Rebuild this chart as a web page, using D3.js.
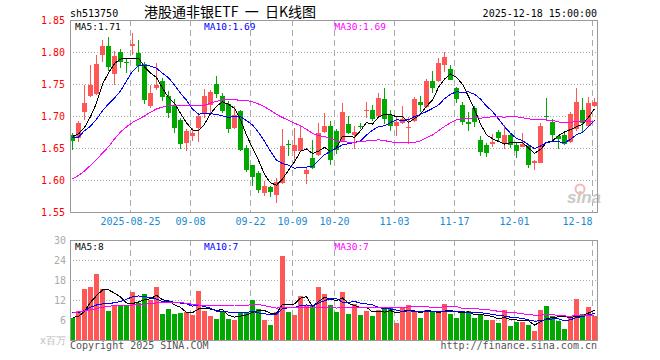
<!DOCTYPE html>
<html>
<head>
<meta charset="utf-8">
<script src="https://cdn.jsdelivr.net/npm/d3@7"></script>
<style>
  body { margin: 0; background: #fff; }
  svg { display: block; }
</style>
</head>
<body>
<script>
// K线数据 (2025-08-11 .. 2025-12-18, 88 个交易日)
const open = [1.670,1.666,1.706,1.732,1.734,1.795,1.809,1.765,1.800,1.785,
  1.810,1.799,1.782,1.715,1.744,1.755,1.731,1.715,1.693,1.658,
  1.669,1.681,1.703,1.717,1.750,1.732,1.719,1.681,1.708,1.650,
  1.623,1.611,1.579,1.589,1.577,1.595,1.656,1.646,1.646,1.610,
  1.634,1.639,1.675,1.684,1.677,1.660,1.688,1.670,1.685,1.709,
  1.710,1.700,1.727,1.702,1.684,1.689,1.682,1.692,1.722,1.714,
  1.754,1.754,1.779,1.773,1.744,1.717,1.691,1.712,1.663,1.655,
  1.657,1.675,1.656,1.670,1.655,1.652,1.653,1.627,1.627,1.700,
  1.691,1.668,1.671,1.660,1.680,1.710,1.685,1.715];
const close = [1.661,1.689,1.720,1.749,1.782,1.809,1.776,1.793,1.785,1.784,
  1.812,1.778,1.725,1.736,1.749,1.729,1.705,1.681,1.656,1.676,
  1.673,1.700,1.731,1.738,1.734,1.708,1.680,1.701,1.647,1.616,
  1.605,1.585,1.590,1.582,1.597,1.653,1.655,1.654,1.665,1.615,
  1.618,1.673,1.684,1.632,1.647,1.706,1.673,1.675,1.684,1.710,
  1.695,1.728,1.696,1.684,1.691,1.695,1.683,1.727,1.717,1.754,
  1.743,1.783,1.792,1.756,1.727,1.690,1.688,1.690,1.643,1.642,
  1.660,1.666,1.670,1.654,1.646,1.657,1.623,1.629,1.684,1.699,
  1.671,1.664,1.657,1.703,1.722,1.689,1.720,1.722];
const high = [1.673,1.692,1.749,1.780,1.796,1.819,1.823,1.801,1.805,1.790,
  1.830,1.819,1.785,1.749,1.783,1.759,1.739,1.726,1.697,1.679,
  1.682,1.705,1.742,1.741,1.763,1.736,1.723,1.715,1.710,1.655,
  1.624,1.614,1.598,1.590,1.603,1.679,1.663,1.681,1.686,1.619,
  1.663,1.689,1.704,1.692,1.680,1.720,1.700,1.685,1.689,1.722,
  1.717,1.736,1.744,1.710,1.698,1.715,1.698,1.730,1.731,1.758,
  1.771,1.791,1.800,1.779,1.746,1.722,1.706,1.716,1.668,1.658,
  1.672,1.678,1.686,1.673,1.658,1.674,1.655,1.631,1.689,1.728,
  1.695,1.669,1.673,1.706,1.743,1.728,1.730,1.728];
const low = [1.647,1.659,1.694,1.730,1.733,1.785,1.770,1.749,1.775,1.767,
  1.795,1.769,1.718,1.713,1.741,1.723,1.697,1.673,1.649,1.646,
  1.661,1.660,1.697,1.705,1.728,1.705,1.673,1.679,1.645,1.613,
  1.590,1.580,1.575,1.574,1.564,1.594,1.638,1.629,1.644,1.594,
  1.617,1.638,1.674,1.624,1.641,1.659,1.672,1.648,1.679,1.697,
  1.692,1.697,1.688,1.676,1.668,1.688,1.656,1.691,1.707,1.713,
  1.736,1.753,1.769,1.756,1.720,1.686,1.676,1.683,1.638,1.636,
  1.651,1.660,1.649,1.650,1.635,1.652,1.618,1.616,1.626,1.695,
  1.663,1.648,1.655,1.658,1.677,1.674,1.684,1.714];
// 成交量 (百万)
const volume = [6.7,8.7,15.3,16.0,19.8,15.3,8.7,10.5,10.5,10.5,
  14.5,11.0,13.8,12.0,15.9,7.8,9.3,7.8,8.2,8.3,
  7.5,14.7,8.8,7.2,6.2,8.7,6.3,6.0,8.5,8.3,
  12.0,9.3,6.0,4.5,8.3,25.2,8.5,7.5,13.2,10.5,
  10.5,16.0,13.8,10.5,8.3,14.5,7.8,10.8,7.5,8.7,
  7.2,9.0,9.5,9.7,5.2,9.7,10.5,8.5,6.7,9.0,
  8.5,8.3,10.8,7.8,6.7,8.0,8.8,6.7,7.7,6.0,
  6.0,5.2,9.0,4.3,5.5,5.5,4.5,2.7,9.0,10.2,
  7.2,5.7,3.3,7.2,12.2,7.8,10.0,7.2];

// 均线开头几天 (之前的数据不在图里, 直接从图上读)
const ma5Lead = [1.668,1.672,1.682,1.699];
const ma10Lead = [1.666,1.667,1.677,1.684,1.695,1.708,1.719,1.728,1.739];
const ma30Lead = [1.602,1.607,1.614,1.623,1.632,1.642,1.652,1.664,1.675,1.683,
  1.690,1.695,1.700,1.706,1.711,1.714,1.716,1.716,1.716,1.716,
  1.716,1.716,1.717,1.720,1.723,1.725,1.726,1.726,1.724];
const vma5Lead = [6.8,7.0,8.7,11.3];
const vma10Lead = [8.1,8.3,8.8,9.8,10.5,10.8,10.9,11.2,11.5];
const vma30Lead = [8.3,8.4,8.7,9.0,9.4,9.8,10.1,10.3,10.4,10.5,
  10.5,10.6,10.7,10.9,11.1,11.3,11.3,11.3,11.2,11.0,
  10.7,10.5,10.5,10.4,10.4,10.4,10.4,10.5,10.5];

const tickIdx = [10,20,30,37,44,54,64,74,87];
const tickLabels = ['2025-08-25','09-08','09-22','10-09','10-20','11-03','11-17','12-01','12-18'];
const priceTicks = [1.55,1.60,1.65,1.70,1.75,1.80,1.85];
const volTicks = [6,12,18,24,30];

const width = 660, height = 360;
const left = 70, right = 597;
const mTop = 20, mBot = 212, vTop = 240, vBot = 340;
const red = '#ff5656', green = '#00a800';
const mono = '"DejaVu Sans Mono", monospace';

function movingAvg(arr, n, lead) {
  return arr.map((d, i) => i < n - 1 ? lead[i] : d3.mean(arr.slice(i - n + 1, i + 1)));
}
const ma5 = movingAvg(close, 5, ma5Lead);
const ma10 = movingAvg(close, 10, ma10Lead);
const ma30 = movingAvg(close, 30, ma30Lead);
const vma5 = movingAvg(volume, 5, vma5Lead);
const vma10 = movingAvg(volume, 10, vma10Lead);
const vma30 = movingAvg(volume, 30, vma30Lead);

const svg = d3.select('body').append('svg')
  .attr('width', width).attr('height', height)
  .style('font-family', mono);

const x = d3.scaleLinear().domain([0, close.length - 1]).range([72.5, 594.5]);
const y = d3.scaleLinear().domain([1.55, 1.85]).range([mBot, mTop]);
const yv = d3.scaleLinear().domain([0, 30]).range([vBot, vTop]);

// 标题
svg.append('text').attr('x', 70).attr('y', 17).attr('font-size', 10).text('sh513750');
svg.append('text').attr('x', 230).attr('y', 17).attr('text-anchor', 'middle')
  .attr('font-family', '"Noto Sans CJK SC"').attr('font-size', 14)
  .attr('xml:space', 'preserve')
  .text('港股通非银ETF  一  日K线图');
svg.append('text').attr('x', 597).attr('y', 17).attr('text-anchor', 'end').attr('font-size', 10)
  .text('2025-12-18 15:00:00');

// 网格
function grid(top, bot, yScale, ticks) {
  const g = svg.append('g').attr('shape-rendering', 'crispEdges');
  g.selectAll('line.h').data(ticks).enter().append('line')
    .attr('x1', left).attr('x2', right)
    .attr('y1', d => Math.round(yScale(d)) + 0.5).attr('y2', d => Math.round(yScale(d)) + 0.5)
    .attr('stroke', '#aaa').attr('stroke-dasharray', '1,2');
  g.selectAll('line.v').data(tickIdx).enter().append('line')
    .attr('x1', d => x(d) - 2).attr('x2', d => x(d) - 2)
    .attr('y1', top).attr('y2', bot)
    .attr('stroke', '#aaa').attr('stroke-dasharray', '6,4');
}
grid(mTop, mBot, y, priceTicks.slice(1, -1));
grid(vTop, vBot, yv, volTicks.slice(0, -1));

// sina 水印
svg.append('circle').attr('cx', 580).attr('cy', 189).attr('r', 4.5)
  .attr('fill', 'none').attr('stroke', '#f4b8b8').attr('stroke-width', 2);
svg.append('text').attr('x', 567).attr('y', 203).attr('font-family', 'Arial, sans-serif')
  .attr('font-size', 17).attr('font-style', 'italic').attr('font-weight', 'bold')
  .attr('fill', '#c9c9c9').text('sina');

// 价格轴
svg.selectAll('text.py').data(priceTicks).enter().append('text')
  .attr('x', 65).attr('y', d => y(d) + 4).attr('text-anchor', 'end')
  .attr('font-size', 10).attr('fill', '#f00').text(d => d.toFixed(2));

// 日期
svg.selectAll('text.dt').data(tickIdx).enter().append('text')
  .attr('x', d => x(d) - 2)
  .attr('y', 225)
  .attr('text-anchor', (d, i) => i === tickIdx.length - 1 ? 'end' : 'middle')
  .attr('font-size', 10).attr('fill', '#1a8ad4')
  .text((d, i) => tickLabels[i]);

// K线
const idx = d3.range(close.length);
const up = i => close[i] >= open[i];
const candles = svg.append('g').attr('shape-rendering', 'crispEdges');
candles.selectAll('line').data(idx).enter().append('line')
  .attr('x1', i => x(i)).attr('x2', i => x(i))
  .attr('y1', i => y(high[i])).attr('y2', i => y(low[i]))
  .attr('stroke', i => up(i) ? red : green);
candles.selectAll('rect').data(idx).enter().append('rect')
  .attr('x', i => x(i) - 2.5).attr('width', 5)
  .attr('y', i => y(Math.max(open[i], close[i])))
  .attr('height', i => Math.max(1, Math.abs(y(open[i]) - y(close[i]))))
  .attr('fill', i => up(i) ? red : green);

// 成交量
svg.append('g').attr('shape-rendering', 'crispEdges')
  .selectAll('rect').data(idx).enter().append('rect')
  .attr('x', i => x(i) - 2.5).attr('width', 5)
  .attr('y', i => yv(volume[i])).attr('height', i => vBot - yv(volume[i]))
  .attr('fill', i => up(i) ? red : green);

// 均线
function maLine(vals, yScale, color) {
  svg.append('path').datum(vals)
    .attr('d', d3.line().x((d, i) => x(i)).y(d => yScale(d)))
    .attr('fill', 'none').attr('stroke', color).attr('stroke-width', 1)
    .attr('shape-rendering', 'crispEdges');
}
maLine(ma5, y, '#000'); maLine(ma10, y, '#00f'); maLine(ma30, y, '#f0f');
maLine(vma5, yv, '#000'); maLine(vma10, yv, '#00f'); maLine(vma30, yv, '#f0f');

// 边框
svg.append('rect').attr('x', left + 0.5).attr('y', mTop + 0.5)
  .attr('width', right - left).attr('height', mBot - mTop)
  .attr('fill', 'none').attr('stroke', '#999');
svg.append('rect').attr('x', left + 0.5).attr('y', vTop + 0.5)
  .attr('width', right - left).attr('height', vBot - vTop)
  .attr('fill', 'none').attr('stroke', '#999');

// 图例
const last = close.length - 1;
const legend = [
  ['MA5:' + ma5[last].toFixed(2), 'MA10:' + ma10[last].toFixed(2), 'MA30:' + ma30[last].toFixed(2)],
  ['MA5:' + Math.floor(vma5[last]), 'MA10:' + Math.floor(vma10[last]), 'MA30:' + Math.floor(vma30[last])]
];
const legX = [75, 204, 334.5], legColor = ['#000', '#00f', '#f0f'];
[30, 250].forEach((ly, r) => {
  legend[r].forEach((t, k) => {
    svg.append('text').attr('x', legX[k]).attr('y', ly).attr('font-size', 9.5)
      .attr('fill', legColor[k]).text(t);
  });
});

// 成交量轴
svg.selectAll('text.vy').data(volTicks).enter().append('text')
  .attr('x', 66).attr('y', d => yv(d) + 4).attr('text-anchor', 'end')
  .attr('font-size', 10).attr('fill', '#aaa').text(d => d);
svg.append('text').attr('x', 66).attr('y', 344).attr('text-anchor', 'end')
  .attr('font-size', 10).attr('fill', '#bbb').text('x百万');

svg.append('text').attr('x', 70).attr('y', 349).attr('font-size', 10).attr('fill', '#555')
  .text('Copyright 2025 SINA.COM');
svg.append('text').attr('x', 597).attr('y', 349).attr('text-anchor', 'end')
  .attr('font-size', 10).attr('fill', '#555').text('http://finance.sina.com.cn');
</script>
</body>
</html>
